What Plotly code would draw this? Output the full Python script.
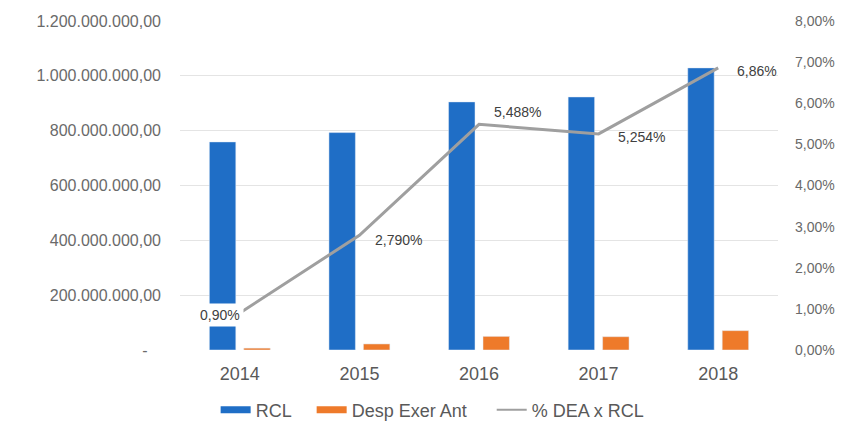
import plotly.graph_objects as go

years = ["2014", "2015", "2016", "2017", "2018"]
rcl = [759e6, 793e6, 905e6, 923e6, 1029e6]
desp_exer_ant = [6.8e6, 22.1e6, 49.7e6, 48.5e6, 70.6e6]
pct_dea_rcl = [0.0090, 0.02790, 0.05488, 0.05254, 0.0686]
pct_labels = ["0,90%", "2,790%", "5,488%", "5,254%", "6,86%"]

left_tickvals = [0, 200e6, 400e6, 600e6, 800e6, 1000e6, 1200e6]
left_ticktext = ["-\u00a0\u00a0\u00a0", "200.000.000,00", "400.000.000,00", "600.000.000,00",
                 "800.000.000,00", "1.000.000.000,00", "1.200.000.000,00"]
right_tickvals = [0, 0.01, 0.02, 0.03, 0.04, 0.05, 0.06, 0.07, 0.08]
right_ticktext = ["0,00%", "1,00%", "2,00%", "3,00%", "4,00%", "5,00%", "6,00%", "7,00%", "8,00%"]

BLUE = "#1f6ec6"
ORANGE = "#ee7a2a"
GRAY = "#9f9f9f"
FONT = "Liberation Sans, Arial, sans-serif"

fig = go.Figure()
fig.add_trace(go.Bar(x=years, y=rcl, name="RCL", marker_color=BLUE, showlegend=False))
fig.add_trace(go.Bar(x=years, y=desp_exer_ant, name="Desp Exer Ant", marker_color=ORANGE, showlegend=False))
fig.add_trace(go.Scatter(x=years, y=pct_dea_rcl, name="% DEA x RCL", mode="lines",
                         line=dict(color=GRAY, width=3), yaxis="y2", showlegend=False))

# legend entries (thick swatches like the original)
NB = "\u00a0"
for name, col, w in [("RCL" + NB * 3, BLUE, 7), ("Desp Exer Ant" + NB * 4, ORANGE, 7),
                     ("% DEA x RCL", GRAY, 2)]:
    fig.add_trace(go.Scatter(x=[years[0]], y=[None], mode="lines", name=name,
                             line=dict(color=col, width=w), showlegend=True, hoverinfo="skip"))

# data labels
shifts = [
    dict(xanchor="right", xshift=4, yshift=-2, bgcolor="white"),
    dict(xanchor="left", xshift=12, yshift=-5, bgcolor="rgba(0,0,0,0)"),
    dict(xanchor="left", xshift=11, yshift=12, bgcolor="rgba(0,0,0,0)"),
    dict(xanchor="left", xshift=15, yshift=-3, bgcolor="rgba(0,0,0,0)"),
    dict(xanchor="left", xshift=15, yshift=-3, bgcolor="rgba(0,0,0,0)"),
]
for i, (yv, txt, s) in enumerate(zip(pct_dea_rcl, pct_labels, shifts)):
    fig.add_annotation(x=i, y=yv, xref="x", yref="y2", text=txt, showarrow=False,
                       yanchor="middle", borderpad=3,
                       font=dict(family=FONT, size=14, color="#404040"), **s)

fig.update_layout(
    width=845, height=424,
    margin=dict(l=180, r=67, t=21, b=74, autoexpand=False),
    paper_bgcolor="white", plot_bgcolor="white",
    barmode="group", bargap=0.424, bargroupgap=0.232,
    font=dict(family=FONT, color="#595959"),
    xaxis=dict(type="category", categoryorder="array", categoryarray=years,
               range=[-0.5, len(years) - 0.5], automargin=False,
               showgrid=False, zeroline=False, showline=False, ticks="",
               ticklabelstandoff=11, tickfont=dict(size=18, color="#595959")),
    yaxis=dict(range=[0, 1.2e9], tickvals=left_tickvals, ticktext=left_ticktext, automargin=False,
               showgrid=True, gridcolor="#e4e4e4", gridwidth=1, zeroline=False, showline=False,
               ticks="", ticklabelstandoff=18, tickfont=dict(size=16, color="#6a6a6a")),
    yaxis2=dict(range=[0, 0.08], tickvals=right_tickvals, ticktext=right_ticktext, automargin=False,
                overlaying="y", side="right", showgrid=False, zeroline=False, showline=False,
                ticks="", ticklabelstandoff=16, tickfont=dict(size=14, color="#6a6a6a")),
    legend=dict(orientation="h", xref="container", yref="container", x=0.512, y=0.033,
                xanchor="center", yanchor="middle", font=dict(size=18, color="#595959"),
                itemwidth=30, bgcolor="rgba(0,0,0,0)"),
)

fig.write_html("out.html")
